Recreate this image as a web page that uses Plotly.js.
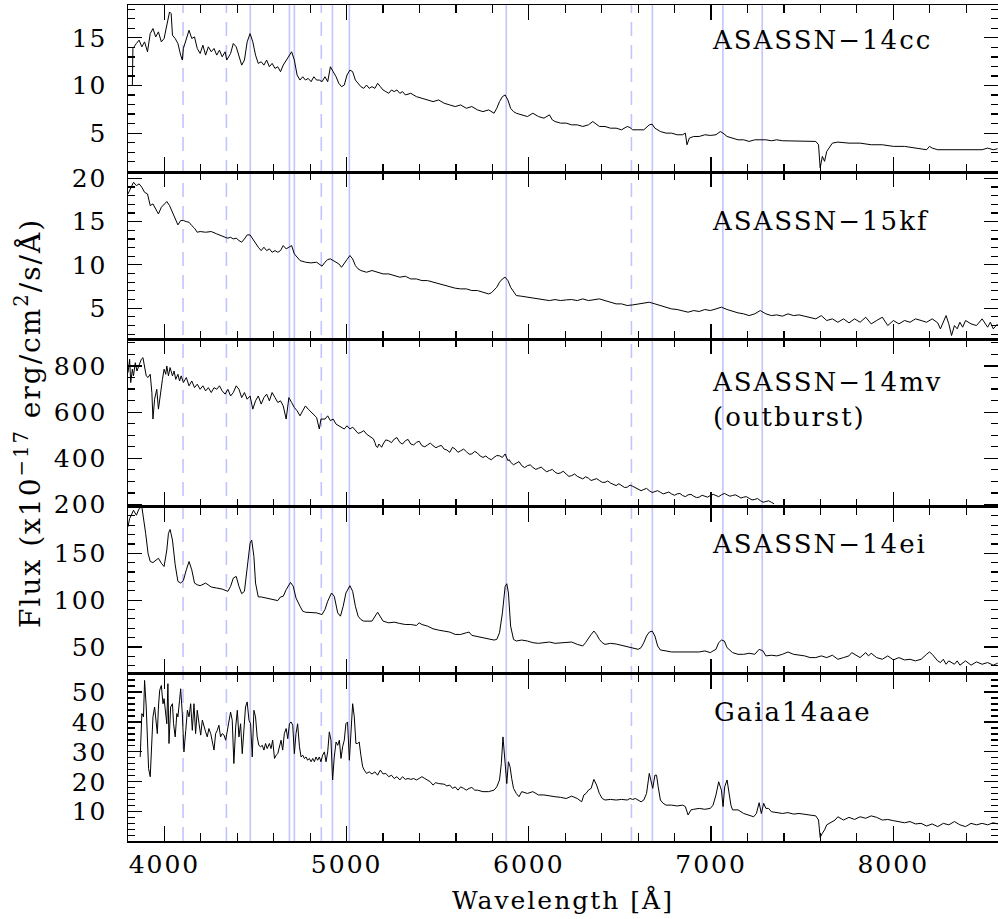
<!DOCTYPE html>
<html><head><meta charset="utf-8">
<script src="https://cdn.plot.ly/plotly-3.0.1.min.js"></script>
<style>
html,body{margin:0;padding:0;background:#fff;}
#chart{width:998px;height:919px;}
.main-svg text{letter-spacing:2px;}
</style></head><body><div id="chart"></div>
<script>
// ---------- DATA ----------
const names = ['ASASSN\u221214cc','ASASSN\u221215kf','ASASSN\u221214mv','ASASSN\u221214ei','Gaia14aae'];
const balmerLines = [4102,4340,4861,6563];
const heliumLines = [4471,4686,4713,4922,5015,5876,6678,7065,7281];

const wave14cc = [3824,3827,3846,3861,3876,3891,3907,3922,3937,3952,3967,3983,3998,4013,4028,4037,4044,4059,4074,4089,4098,4104,4120,4135,4150,4165,4180,4196,4211,4226,4241,4257,4272,4287,4302,4317,4333,4342,4363,4378,4394,4409,4424,4439,4454,4470,4485,4500,4515,4531,4546,4561,4576,4591,4607,4622,4637,4652,4668,4683,4698,4713,4728,4744,4759,4774,4789,4805,4820,4835,4850,4865,4881,4896,4911,4926,4942,4957,4972,4987,5002,5018,5033,5048,5063,5078,5094,5109,5124,5139,5155,5170,5185,5200,5215,5231,5246,5261,5276,5292,5307,5322,5352,5383,5413,5444,5474,5505,5535,5566,5596,5626,5657,5687,5718,5748,5779,5809,5824,5839,5855,5870,5885,5900,5916,5931,5961,5992,6022,6053,6083,6113,6129,6144,6174,6205,6235,6266,6296,6327,6351,6372,6387,6418,6448,6479,6509,6540,6555,6570,6600,6631,6661,6677,6692,6722,6753,6783,6814,6844,6859,6868,6881,6905,6935,6966,6996,7027,7051,7066,7088,7118,7148,7179,7209,7240,7270,7301,7331,7361,7392,7422,7453,7483,7514,7544,7575,7590,7599,7611,7623,7635,7651,7666,7696,7757,7818,7879,7940,8001,8062,8122,8183,8199,8214,8244,8305,8366,8427,8488,8518,8549,8573];
const flux14cc = [10.05,13.89,14.41,14.76,14.06,14.58,13.54,15.45,15.98,15.10,15.63,14.58,14.93,16.32,17.72,17.54,15.28,14.93,14.41,13.19,12.67,13.89,14.93,15.80,14.93,15.10,13.89,13.36,14.23,13.19,14.06,13.54,13.89,13.19,13.71,13.01,13.54,12.67,13.36,14.41,14.06,13.19,12.14,12.67,14.58,15.45,14.58,13.19,12.32,12.49,12.14,12.67,11.97,12.32,11.79,11.97,11.45,12.14,12.67,13.19,13.54,12.67,11.10,10.57,10.92,10.57,10.75,10.40,10.92,10.57,10.57,10.40,10.92,10.40,11.97,11.45,10.92,10.23,9.88,10.05,11.10,11.62,11.45,10.57,10.23,9.88,9.70,10.05,9.70,9.88,9.70,10.23,9.88,9.53,9.36,9.18,9.53,9.36,9.53,9.18,9.36,9.01,9.18,8.83,8.66,8.48,8.31,8.48,8.14,7.96,7.79,7.96,7.61,7.79,7.44,7.26,7.44,7.09,7.61,8.31,8.83,9.01,8.48,7.61,7.26,7.09,6.92,6.74,7.09,6.74,6.57,6.92,6.39,6.22,6.05,6.05,5.87,5.87,5.70,5.87,6.22,5.87,5.70,5.70,5.52,5.52,5.35,5.70,5.59,5.35,5.35,5.35,5.87,5.94,5.52,5.17,5.00,5.00,4.83,4.83,5.00,3.78,4.48,4.65,4.65,4.83,4.76,4.83,5.17,5.00,4.65,4.48,4.30,4.30,4.13,4.30,4.30,4.30,4.20,4.30,4.20,4.20,4.13,4.13,4.20,4.13,4.13,3.78,1.34,2.56,2.04,3.08,3.61,3.95,4.06,3.95,3.95,3.78,3.78,3.61,3.61,3.43,3.26,3.61,3.43,3.26,3.26,3.26,3.26,3.26,3.43,3.26,3.36];

const wave15kf = [3800,3815,3830,3846,3861,3876,3891,3907,3922,3937,3952,3967,3983,3998,4013,4028,4044,4059,4074,4089,4104,4120,4135,4150,4165,4180,4196,4226,4257,4287,4317,4333,4348,4363,4378,4394,4409,4424,4439,4454,4470,4485,4500,4515,4531,4546,4561,4576,4591,4607,4622,4637,4652,4668,4683,4698,4713,4728,4744,4774,4805,4835,4850,4865,4881,4896,4911,4926,4942,4957,4972,4987,5002,5018,5033,5048,5063,5078,5109,5139,5170,5200,5231,5261,5292,5322,5352,5383,5413,5444,5474,5505,5535,5566,5596,5626,5657,5687,5718,5748,5779,5794,5809,5824,5839,5855,5870,5885,5900,5916,5931,5961,5992,6022,6053,6083,6113,6144,6174,6205,6235,6266,6296,6327,6357,6387,6418,6448,6479,6509,6540,6570,6600,6631,6661,6692,6722,6753,6783,6814,6844,6874,6905,6935,6966,6996,7027,7057,7088,7118,7148,7179,7209,7240,7270,7301,7331,7361,7392,7422,7453,7483,7514,7544,7575,7605,7635,7666,7696,7727,7757,7788,7818,7849,7879,7909,7940,7970,8001,8031,8062,8092,8122,8153,8183,8214,8244,8259,8275,8290,8305,8320,8336,8351,8366,8381,8397,8427,8457,8488,8518,8533,8549,8573];
const flux15kf = [18.19,18.96,19.54,19.15,19.35,18.96,18.38,18.19,16.85,17.04,16.46,15.88,16.65,17.04,17.31,16.85,16.08,15.31,14.62,15.12,15.12,15.0,14.92,14.54,14.23,13.77,13.85,13.77,13.85,13.58,13.38,13.19,13.08,13.19,13.0,13.08,12.81,12.62,13.0,13.46,13.46,13.0,12.42,12.04,11.65,12.04,11.65,11.85,11.46,11.65,11.46,11.65,12.23,11.85,12.04,12.23,11.27,10.88,10.5,10.31,10.23,10.31,10.12,9.85,10.31,10.62,10.69,10.5,10.31,10.12,9.73,10.12,10.62,11.08,10.69,9.92,9.54,9.35,9.15,9.35,9.15,8.96,8.96,8.77,8.58,8.69,8.38,8.38,8.19,8.19,8.0,7.81,7.62,7.42,7.31,7.23,7.23,7.04,7.04,6.85,6.65,6.77,7.04,7.42,8.0,8.38,8.58,8.19,7.42,6.85,6.46,6.38,6.27,6.15,6.08,5.96,5.88,6.0,5.88,5.96,6.0,5.88,6.08,5.88,6.0,6.08,5.88,5.69,5.5,5.5,5.31,5.38,5.5,5.62,5.69,5.5,5.31,5.12,4.92,4.85,4.73,4.54,4.73,4.62,4.85,4.73,4.92,5.12,4.85,4.62,4.46,4.35,4.15,4.35,4.73,4.35,4.15,4.23,4.08,4.35,4.15,4.23,4.08,3.85,3.77,4.15,3.58,3.77,3.38,3.77,3.31,3.77,3.38,3.96,3.19,3.58,3.96,3.0,3.58,3.19,3.58,3.38,3.77,3.58,3.38,3.77,3.31,2.62,3.38,4.15,3.19,1.85,3.0,2.62,3.38,2.81,3.58,3.19,3.0,3.77,2.81,3.38,2.62,3.19];

const wave14mv = [3800,3809,3815,3824,3830,3840,3849,3861,3873,3882,3891,3900,3910,3922,3931,3937,3946,3958,3967,3977,3989,3998,4007,4013,4022,4031,4044,4053,4062,4074,4083,4092,4104,4120,4135,4150,4165,4180,4196,4211,4226,4241,4257,4272,4287,4302,4317,4333,4348,4363,4378,4394,4409,4424,4439,4454,4470,4485,4500,4515,4531,4546,4561,4576,4591,4607,4622,4637,4652,4668,4683,4698,4713,4728,4744,4759,4774,4789,4805,4835,4850,4859,4881,4896,4911,4926,4942,4957,4972,4987,5002,
  5018,5033,5048,5063,5078,5094,5109,5124,5139,5147,5155,5162,5170,5177,5185,5192,5200,5215,5231,5246,5261,5276,5292,5307,5322,5337,5352,5368,5383,5398,5413,5429,5444,5459,5474,5490,5505,5520,5535,5550,5566,5581,5596,5611,5626,5642,5657,5672,5687,5703,5718,5733,5748,5764,5779,5794,5809,5824,5839,5855,5870,5877,5885,5893,5900,5916,5931,5946,5961,5977,5992,6007,6022,6038,6053,6068,6083,6098,6113,6129,6144,6159,6174,6189,6205,6220,6235,6251,6266,6281,6296,6312,6327,6342,6357,6372,6387,6403,6418,6433,6448,6464,6479,6494,6509,6525,6540,6555,6570,6585,6600,6616,6631,6646,6661,6677,6692,6707,6722,6738,6753,6768,6783,6799,6814,6829,6844,6859,6874,6890,6905,6920,6935,6951,6966,6981,6996,7012,7027,7042,7057,7073,7088,7103,7118,7133,7148,7164,7179,7194,7209,7225,7240,7255,7270,7286,7301,7316,7331,7339,7346];
const flux14mv = [771,829,728,786,757,814,778,800,829,836,786,757,750,764,685,570,656,699,613,685,742,786,764,800,757,793,757,778,742,764,735,757,728,750,714,735,706,721,699,714,692,706,685,706,699,714,692,678,699,670,685,714,699,663,685,656,670,613,649,670,635,663,678,649,685,663,642,649,627,570,663,642,620,606,584,606,627,613,599,577,527,570,570,584,563,570,548,541,534,527,541,
  527,535,519,508,512,520,505,496,491,484,469,452,447,462,455,448,462,480,476,468,483,490,469,462,476,482,462,458,469,474,455,450,458,466,455,446,452,456,440,436,426,448,440,426,433,440,429,418,419,430,423,410,404,410,400,394,404,412,411,404,419,408,390,394,383,372,380,386,368,360,368,372,361,352,357,362,351,342,347,352,340,334,337,344,332,322,325,332,322,316,311,320,314,304,308,312,304,296,296,302,293,286,282,290,282,274,275,284,279,272,268,260,265,270,260,252,256,260,253,246,250,254,246,240,246,248,239,234,242,244,236,230,232,240,236,232,239,244,239,234,242,248,242,236,239,242,236,228,232,234,227,220,222,226,217,210,213,216,210,208,203];

const wave14ei = [3800,3809,3818,3830,3846,3861,3876,3885,3897,3910,3922,3937,3952,3967,3983,3998,4013,4022,4031,4044,4059,4074,4089,4104,4120,4135,4150,4165,4180,4196,4226,4257,4287,4317,4348,4363,4378,4394,4409,4424,4439,4454,4470,4479,4491,4500,4515,4531,4561,4591,4607,4622,4637,4652,4668,4683,4692,4707,4722,4744,4759,4774,4805,4835,4865,4881,4896,4917,4932,4951,4966,4981,4996,5018,5033,5048,5063,5078,5094,5109,5139,5170,5185,5200,5231,5261,5292,5322,5352,5383,5398,5413,5444,5474,5505,5535,5566,5596,5626,5657,5672,5687,5718,5748,5779,5809,5824,5839,5855,5870,5879,5888,5900,5916,5931,5961,5992,6022,6053,6083,6113,6144,6174,6205,6235,6266,6296,6311,6327,6342,6357,6372,6387,6403,6418,6448,6479,6509,6540,6570,6600,6616,6631,6646,6661,6677,6692,6707,6722,6753,6783,6814,6844,6874,6905,6935,6966,6996,7011,7027,7042,7057,7073,7088,7118,7148,7179,7209,7240,7264,7285,7301,7331,7361,7392,7422,7453,7483,7514,7544,7575,7605,7635,7666,7696,7727,7757,7772,7788,7818,7849,7864,7879,7909,7940,7970,8001,8031,8062,8092,8122,8153,8183,8199,8214,8229,8244,8259,8275,8290,8305,8336,8351,8366,8397,8427,8457,8488,8518,8549,8573];
const flux14ei = [178.3,187.1,190.6,195.9,190.6,197.7,199.5,188.9,171.2,150,141.2,140.1,142.9,144.7,139.4,135.9,153.5,171.2,175.4,164.1,137.6,120.0,118.2,121.0,132.3,141.2,132.3,118.2,116.4,115.4,118.2,114.0,112.9,111.8,109.4,114.7,123.5,125.3,114.7,106.9,109.4,135.9,160.6,164.1,146.5,118.2,103.4,103.4,102.3,101.2,100.5,99.5,103.4,104.1,111.1,116.4,118.9,114.7,102.3,93.5,88.2,87.1,87.1,86.4,84.6,90.0,98.8,107.6,104.1,86.4,82.9,93.5,107.6,115.4,109.4,93.5,82.9,79.3,77.6,77.6,77.6,87.1,82.9,77.6,75.8,76.5,75.1,74.0,74.0,73.0,75.8,74.0,72.3,69.4,68.0,67.0,65.9,63.4,63.4,65.2,65.9,62.4,61.0,59.9,58.1,57.4,58.1,65.2,86.4,114.7,117.5,107.6,72.3,58.1,56.4,57.4,56.4,54.6,53.9,54.6,55.3,53.9,54.6,54.6,55.3,52.8,51.1,54.6,59.9,63.4,67.0,63.4,58.1,54.6,52.8,53.9,53.2,51.8,51.1,49.3,47.5,49.3,54.6,61.7,65.9,67.0,61.7,51.1,46.8,45.8,44.7,44.7,44.7,44.7,45.1,44.7,45.8,44.0,45.8,47.5,54.6,57.4,56.4,49.3,44.0,42.2,42.2,43.3,42.2,47.5,45.8,40.5,41.2,40.5,42.2,44.7,42.2,41.2,40.5,38.7,38.7,40.5,38.7,41.2,36.9,38.7,40.5,44.0,42.2,38.7,44.0,40.5,43.3,38.7,36.9,40.5,36.2,38.7,36.2,36.9,35.2,36.9,42.2,44.7,42.2,38.7,35.2,33.4,36.9,31.6,35.2,31.6,35.2,30.6,35.2,30.6,34.1,31.6,33.4,30.6,32.7];

const waveGaia = [3867,3876,3885,3891,3900,3907,3913,3922,3928,3937,3946,3952,3961,3967,3974,3983,3992,3998,4007,4013,4019,4025,4034,4044,4050,4059,4068,4074,4083,4089,4098,4107,4117,4126,4135,4144,4153,4162,4171,4180,4190,4199,4208,4217,4226,4235,4244,4254,4263,4272,4281,4290,4299,4308,4317,4327,4336,4345,4354,4363,4372,4381,4391,4400,4409,4418,4427,4436,4445,4454,4464,4473,4482,4491,4500,4509,4518,4528,4537,4546,4555,4564,4576,4585,4594,4604,4613,4622,4631,4640,4649,4658,4668,4677,4686,4695,4704,4713,4722,4731,4741,4750,4759,4768,4777,4786,4795,4805,4814,4823,4832,4841,4850,4859,4868,4878,4887,4896,4905,4914,4923,4932,4942,4951,4960,4969,4978,4987,4996,5005,5015,5024,5033,5042,5051,5060,5069,5078,5088,5097,5109,5124,5139,5155,5170,5185,5200,5215,5231,5246,5261,5276,5292,5307,5322,5337,5352,5368,5383,5398,5413,5429,5444,5459,5474,5489,5505,5535,5550,5566,5581,5596,5611,5626,5642,5657,5672,5687,5703,5718,5748,5779,5809,5824,5839,5849,5858,5864,5870,5879,5888,5897,5906,5916,5931,5946,5961,5992,6022,6053,6083,6113,6144,6174,6205,6235,6266,6290,6302,6314,6327,6342,6357,6372,6387,6403,6418,6448,6479,6509,6540,6555,6570,6585,6600,6616,6631,6646,6661,6670,6680,6692,6701,6710,6722,6737,6753,6783,6814,6844,6859,6874,6890,6905,6935,6966,6996,7011,7027,7042,7057,7066,7075,7088,7097,7109,7118,7148,7179,7209,7234,7249,7264,7276,7289,7301,7316,7331,7361,7392,7422,7453,7483,7514,7544,7575,7590,7599,7611,7623,7635,7651,7666,7681,7696,7712,7727,7757,7788,7818,7849,7879,7909,7940,7970,8001,8031,8062,8092,8122,8153,8183,8214,8244,8275,8305,8336,8366,8397,8427,8457,8488,8518,8549,8573];
const fluxGaia = [28.3,42.8,41.7,53.9,45.0,30.6,24.4,21.7,29.4,41.7,45.0,40.6,36.1,45.0,50.6,52.2,46.1,47.8,42.8,39.4,52.8,32.8,45.0,46.1,39.4,35.0,42.8,41.7,47.2,51.1,42.8,30.0,37.2,43.9,41.7,46.1,37.2,46.1,36.1,43.9,39.4,35.6,40.6,38.3,36.7,35.0,37.8,36.1,32.8,30.6,36.1,37.2,38.9,35.0,36.1,35.6,33.9,36.7,39.4,43.3,40.6,26.1,38.3,43.9,35.0,39.4,29.4,36.7,45.0,46.7,40.6,39.4,28.3,43.9,41.7,35.0,32.2,31.7,32.2,30.6,32.8,31.1,32.8,31.1,33.9,27.8,28.9,29.4,32.2,33.9,30.6,36.1,37.8,34.4,39.4,40.0,38.9,29.4,36.1,39.4,31.7,28.3,28.9,27.8,28.3,27.2,27.8,26.7,27.8,26.7,28.3,27.2,28.3,26.7,28.9,30.0,26.7,30.0,36.7,33.9,20.6,28.3,33.3,32.2,33.9,27.8,31.7,33.9,39.4,40.0,27.2,39.4,46.1,41.7,32.8,32.8,33.3,28.9,25.0,23.9,22.8,23.3,22.6,23.3,22.2,23.9,22.6,22.8,21.7,22.2,21.1,21.7,20.6,21.7,20.8,21.1,20.8,21.1,20.6,21.1,21.7,21.1,20.6,20.0,18.9,19.7,19.4,19.2,18.6,18.9,17.8,18.3,17.2,18.3,17.8,17.2,17.8,18.1,17.2,17.2,16.7,16.7,17.2,18.3,20.6,26.1,35.0,30.6,23.9,19.4,26.7,25.0,21.1,17.8,16.1,15.0,16.7,16.1,16.7,15.6,15.6,15.2,15.0,14.8,14.4,15.2,14.4,13.3,15.6,16.1,17.2,17.8,20.8,18.9,16.1,14.4,13.9,14.1,13.9,14.1,13.9,14.4,14.1,14.4,13.9,13.3,13.9,16.1,22.8,20.0,17.8,22.2,22.2,18.3,13.9,12.8,12.2,12.2,11.9,12.2,11.7,8.9,10.6,10.8,11.1,10.8,11.1,12.2,15.6,20.0,17.2,11.7,18.3,20.6,16.7,12.2,10.6,10.6,9.4,8.9,8.3,9.4,13.0,9.4,12.8,11.1,11.1,10.0,9.7,9.4,9.7,9.2,9.4,9.2,8.9,8.6,7.2,1.4,2.8,3.9,5.6,6.1,6.7,7.2,8.3,7.8,7.2,8.1,7.4,8.3,7.8,8.6,8.1,7.2,7.4,7.0,6.7,6.3,6.7,5.9,6.1,5.2,5.9,5.0,6.1,5.6,6.7,5.6,5.0,6.1,5.6,6.1,5.6,6.3,5.9];

const panels = [
  {name: names[0], wave: wave14cc, flux: flux14cc},
  {name: names[1], wave: wave15kf, flux: flux15kf},
  {name: names[2], wave: wave14mv, flux: flux14mv},
  {name: names[3], wave: wave14ei, flux: flux14ei},
  {name: names[4], wave: waveGaia, flux: fluxGaia}
];
const yRanges = [[0.9,18.45],[1.4,20.7],[191,915],[21.4,199.8],[0.2,56.1]];
const yDticks = [5,5,200,50,10];
const yMinor = [1,1,50,10,2];
const xRange = [3800,8575];

// ---------- LAYOUT ----------
const FONT = 'DejaVu Serif';
const layout = {
  width: 998, height: 919,
  margin: {l: 128, r: 0, t: 5, b: 78},
  paper_bgcolor: '#fff', plot_bgcolor: 'rgba(0,0,0,0)',
  showlegend: false,
  font: {family: FONT, size: 25, color: '#000'},
  shapes: [], annotations: []
};
const traces = [];
const nameY = [0.79, 0.708, 0.748, 0.778, 0.773];
panels.forEach((p, i) => {
  const k = i === 0 ? '' : String(i + 1);
  const top = 1 - i * 0.2, bot = 1 - (i + 1) * 0.2;
  layout['xaxis' + k] = {
    range: xRange, domain: [0, 1], anchor: 'y' + k,
    showline: true, linecolor: '#000', linewidth: 1.5, mirror: 'ticks',
    ticks: 'inside', ticklen: 15, tickwidth: 1.2, tickcolor: '#000',
    tick0: 0, dtick: 1000,
    minor: {dtick: 200, ticks: 'inside', ticklen: 8, tickwidth: 1.2, tickcolor: '#000'},
    showgrid: false, zeroline: false,
    showticklabels: i === 4,
    tickfont: {family: FONT, size: 25, color: '#000'}
  };
  layout['yaxis' + k] = {
    range: yRanges[i], domain: [Math.max(bot, 0), top], anchor: 'x' + k,
    showline: true, linecolor: '#000', linewidth: 1.5, mirror: 'ticks',
    ticks: 'inside', ticklen: 14, tickwidth: 1.2, tickcolor: '#000',
    tick0: 0, dtick: yDticks[i],
    minor: {dtick: yMinor[i], ticks: 'inside', ticklen: 7, tickwidth: 1.2, tickcolor: '#000'},
    showgrid: false, zeroline: false,
    tickfont: {family: FONT, size: 25, color: '#000'},
    ticklabelstandoff: 14
  };
  traces.push({
    x: p.wave, y: p.flux, xaxis: 'x' + k, yaxis: 'y' + k,
    type: 'scatter', mode: 'lines', line: {color: '#000', width: 1}, hoverinfo: 'skip'
  });
  layout.annotations.push({
    text: p.name, xref: 'x' + k, yref: 'y' + k + ' domain',
    x: 7054, y: nameY[i], xanchor: 'left', yanchor: 'middle', showarrow: false,
    font: {family: FONT, size: 26, color: '#000'}
  });
});
layout.annotations.push({
  text: '(outburst)', xref: 'x3', yref: 'y3 domain', x: 7054, y: 0.536,
  xanchor: 'left', yanchor: 'middle', showarrow: false,
  font: {family: FONT, size: 26, color: '#000'}
});
layout.annotations.push({
  text: 'Flux (x10<sup>\u221217</sup> erg/cm<sup>2</sup>/s/\u00c5)', xref: 'paper', yref: 'paper',
  x: -0.115, y: 0.5, textangle: -90, xanchor: 'center', yanchor: 'middle', showarrow: false,
  font: {family: FONT, size: 28, color: '#000'}
});
layout.annotations.push({
  text: 'Wavelength [\u00c5]', xref: 'paper', yref: 'paper',
  x: 0.5, y: -0.0706, xanchor: 'center', yanchor: 'middle', showarrow: false,
  font: {family: FONT, size: 25, color: '#000'}
});
balmerLines.forEach(w => layout.shapes.push({
  type: 'line', xref: 'x', yref: 'paper', x0: w, x1: w, y0: 0, y1: 1, layer: 'below',
  line: {color: 'rgb(195,195,255)', width: 1.6, dash: '14px,9px'}
}));
heliumLines.forEach(w => layout.shapes.push({
  type: 'line', xref: 'x', yref: 'paper', x0: w, x1: w, y0: 0, y1: 1, layer: 'below',
  line: {color: 'rgb(195,195,255)', width: 1.6}
}));

Plotly.newPlot('chart', traces, layout, {displayModeBar: false, staticPlot: true});
</script></body></html>
